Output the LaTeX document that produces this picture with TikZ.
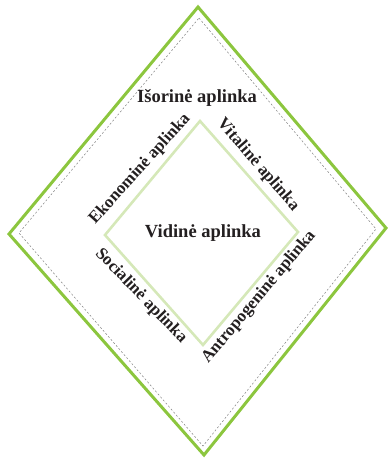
\documentclass[tikz,border=0pt]{standalone}
\usepackage{fontspec}
\setmainfont{Liberation Serif}
\definecolor{outergreen}{HTML}{8CC63E}
\definecolor{innergreen}{HTML}{D5E8B8}
\definecolor{txt}{HTML}{231F20}
\begin{document}
\begin{tikzpicture}[x=1pt,y=-1pt,
  lbl/.style={font=\fontsize{17}{20}\selectfont\bfseries, text=txt, inner sep=0pt},
  biglbl/.style={font=\fontsize{18.5}{21}\selectfont\bfseries, text=txt, inner sep=0pt},
  outerline/.style={draw=outergreen, line width=3pt, line join=miter},
  innerline/.style={draw=innergreen, line width=2.6pt, line join=miter},
  dashline/.style={draw=gray, line width=0.5pt, dash pattern=on 2pt off 2pt}]
\useasboundingbox (0,0) rectangle (388,459);
\coordinate (oT) at (198,7);
\coordinate (oL) at (9,234);
\coordinate (oR) at (386,228);
\coordinate (oB) at (204,455);
\coordinate (dT) at (199,18);
\coordinate (dL) at (19,233);
\coordinate (dR) at (376,229);
\coordinate (dB) at (203,446);
\coordinate (iT) at (200,121);
\coordinate (iL) at (105,235);
\coordinate (iR) at (298,232);
\coordinate (iB) at (203,345);
\draw[outerline] (oT) -- (oR) -- (oB) -- (oL) -- cycle;
\draw[dashline] (dT) -- (dR) -- (dB) -- (dL) -- cycle;
\draw[innerline] (iT) -- (iR) -- (iB) -- (iL) -- cycle;
\node[biglbl] (isor) at (197,98) {Išorinė aplinka};
\node[biglbl] (vid) at (203,233) {Vidinė aplinka};
\node[lbl, rotate=48] (eko) at (140,169) {Ekonominė aplinka};
\node[lbl, rotate=-49] (vit) at (258,165) {Vitalinė aplinka};
\node[lbl, rotate=-46] (soc) at (141,296) {Socialinė aplinka};
\node[lbl, rotate=50] (ant) at (259,297) {Antropogeninė aplinka};
\end{tikzpicture}
\end{document}
